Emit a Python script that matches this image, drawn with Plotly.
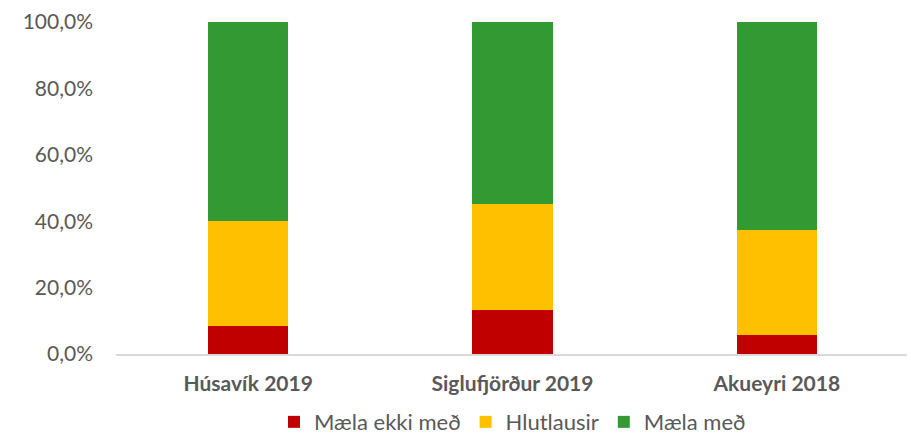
import plotly.graph_objects as go

categories = ["Húsavík 2019", "Siglufjörður 2019", "Akueyri 2018"]
maela_ekki_med = [0.084, 0.134, 0.058]
hlutlausir = [0.316, 0.318, 0.317]
maela_med = [0.600, 0.548, 0.625]
series_names = ["Mæla ekki með", "Hlutlausir", "Mæla með"]
colors = ["#C00000", "#FFC000", "#339933"]

FONT = "Lato, Open Sans, Liberation Sans, sans-serif"

fig = go.Figure()
for name, vals, col in zip(series_names, [maela_ekki_med, hlutlausir, maela_med], colors):
    fig.add_trace(go.Bar(x=categories, y=vals, name=name, marker=dict(color=col, line=dict(width=0))))

fig.update_layout(
    barmode="stack",
    bargap=0.695,
    width=907, height=430,
    margin=dict(l=108, r=6, t=14, b=84, autoexpand=False),
    plot_bgcolor="white", paper_bgcolor="white",
    separators=",.",
    font=dict(family=FONT, color="#595959", size=21),
    legend=dict(orientation="h", x=0.5, xanchor="center", y=-0.205, yanchor="middle",
                font=dict(size=22, color="#595959", family=FONT), traceorder="normal",
                itemwidth=30, tracegroupgap=0),
    xaxis=dict(showline=True, linecolor="#d9d9d9", linewidth=1.5, ticks="",
               tickfont=dict(size=21, color="#595959", family=FONT),
               ticklabelstandoff=10, showgrid=False),
    yaxis=dict(range=[0, 1], tickvals=[0, 0.2, 0.4, 0.6, 0.8, 1.0], tickformat=".1%",
               showgrid=False, zeroline=False, showline=False, ticks="",
               ticklabelstandoff=22, tickfont=dict(size=21, color="#595959", family=FONT)),
)
fig.update_xaxes(tickprefix="<b>", ticksuffix="</b>")
fig.write_html("out.html")
